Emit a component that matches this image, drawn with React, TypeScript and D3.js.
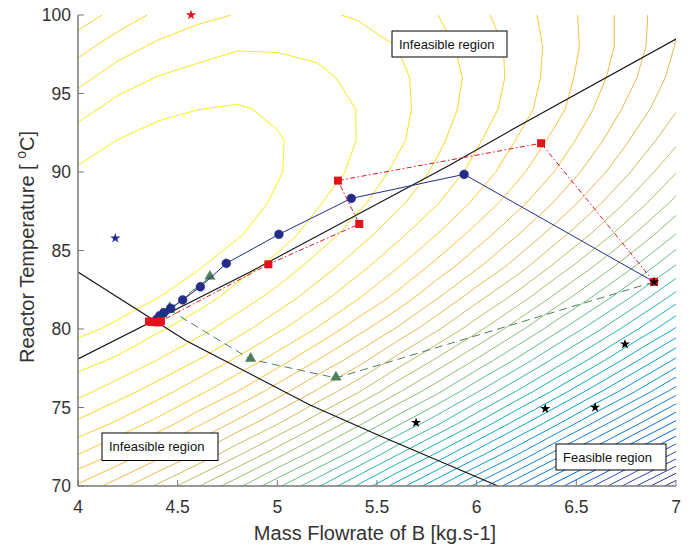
import React from "react";
import * as d3 from "d3";

// ---- contour field (profit) on a coarse grid ----
const gridX = [4, 4.2, 4.4, 4.6, 4.8, 5, 5.2, 5.4, 5.6, 5.8, 6, 6.2, 6.4, 6.6, 6.8, 7];
const gridY = [70, 72, 74, 76, 78, 80, 82, 84, 86, 88, 90, 92, 94, 96, 98, 100];
// rows: one per gridY value (70 -> 100), columns: gridX (4 -> 7)
const profitGrid = [
  [107, 93.9, 78.8, 62.6, 45.5, 26.4, 7.3, -13.8, -36.0, -58.1, -81.2, -105.3, -129.4, -154.6, -180.7, -206.8],
  [127, 115.9, 102.8, 88.6, 72.5, 55.4, 37.3, 18.2, -3.0, -24.1, -46.2, -68.3, -92.4, -115.6, -140.7, -165.8],
  [144, 134.9, 123.8, 110.6, 96.5, 81.4, 64.3, 46.2, 27.0, 7.9, -13.2, -35.3, -57.4, -80.6, -103.7, -127.8],
  [158, 149.9, 140.8, 129.6, 117.5, 103.4, 88.3, 72.2, 54.0, 35.9, 15.8, -4.3, -25.4, -47.6, -69.7, -92.8],
  [168, 162.9, 154.8, 145.6, 134.5, 122.4, 108.3, 94.2, 77.0, 59.9, 41.8, 22.7, 2.6, -17.6, -39.7, -61.8],
  [176, 171.9, 165.8, 158.6, 149.5, 138.4, 126.3, 112.2, 98.0, 81.9, 64.8, 46.7, 27.6, 8.4, -11.7, -32.8],
  [180, 177.9, 173.8, 168.6, 160.5, 151.4, 140.3, 128.2, 115.0, 99.9, 83.8, 67.7, 49.6, 31.4, 12.3, -7.8],
  [182, 181.9, 179.8, 174.6, 168.5, 161.4, 151.3, 140.2, 128.0, 114.9, 100.8, 85.7, 68.6, 51.4, 33.3, 14.2],
  [182, 182.9, 181.8, 179.6, 174.5, 168.4, 160.3, 150.2, 139.0, 126.9, 113.8, 99.7, 84.6, 68.4, 51.3, 33.2],
  [180, 181.9, 182.8, 180.6, 177.5, 172.4, 165.3, 157.2, 148.0, 136.9, 124.8, 111.7, 97.6, 82.4, 66.3, 49.2],
  [175, 178.9, 180.8, 180.6, 178.5, 174.4, 169.3, 162.2, 153.0, 143.9, 132.8, 120.7, 107.6, 93.4, 78.3, 62.2],
  [169, 173.9, 176.8, 178.6, 177.5, 174.4, 170.3, 164.2, 157.0, 147.9, 137.8, 126.7, 114.6, 101.4, 87.3, 73.2],
  [161, 167.9, 171.8, 173.6, 174.5, 172.4, 169.3, 164.2, 158.0, 149.9, 141.8, 131.7, 120.6, 107.4, 94.3, 81.2],
  [152, 159.9, 164.8, 167.6, 169.5, 168.4, 166.3, 162.2, 157.0, 150.9, 142.8, 133.7, 122.6, 111.4, 99.3, 86.2],
  [142, 150.9, 156.8, 160.6, 163.5, 163.4, 162.3, 159.2, 155.0, 148.9, 141.8, 133.7, 123.6, 113.4, 102.3, 89.2],
  [131, 139.9, 147.8, 152.6, 155.5, 156.4, 156.3, 154.2, 150.0, 145.9, 138.8, 131.7, 122.6, 113.4, 102.3, 91.2],
];
const contourTop = 173.7;
const contourStep = 9.33;
const contourCount = 41;

// parula colormap (sampled)
const parula = [
  [0.2081, 0.1663, 0.5292], [0.2123, 0.2138, 0.627], [0.1959, 0.2645, 0.7279], [0.1253, 0.3242, 0.8303],
  [0.0117, 0.3875, 0.882], [0.0165, 0.4266, 0.8786], [0.0498, 0.4586, 0.8641], [0.0723, 0.4887, 0.8467],
  [0.0793, 0.52, 0.8312], [0.0641, 0.557, 0.824], [0.0343, 0.5966, 0.8199], [0.0239, 0.6287, 0.8038],
  [0.0228, 0.6535, 0.7768], [0.0384, 0.6743, 0.7436], [0.0843, 0.6928, 0.7062], [0.1453, 0.7098, 0.6646],
  [0.2178, 0.725, 0.6193], [0.3022, 0.7376, 0.5712], [0.3953, 0.7459, 0.5244], [0.4871, 0.7491, 0.484],
  [0.5709, 0.7485, 0.4494], [0.6473, 0.7456, 0.4188], [0.7184, 0.7411, 0.3905], [0.7858, 0.7356, 0.3633],
  [0.8507, 0.7299, 0.336], [0.9139, 0.7258, 0.3063], [0.9739, 0.7314, 0.2666], [0.999, 0.7653, 0.2164],
  [0.988, 0.8066, 0.1794], [0.9697, 0.8481, 0.1475], [0.9589, 0.8949, 0.1132], [0.9661, 0.9514, 0.0755],
  [0.9763, 0.9831, 0.0538],
];

// ---- constraint boundaries ----
const xgLineX = [4.0, 4.863, 5.866, 6.192, 7.0];
const xgLineY = [78.09, 83.63, 90.45, 92.8, 98.47];
const xaLineX = [4.0, 4.11, 4.545, 5.164, 5.505, 6.107];
const xaLineY = [83.63, 82.74, 79.24, 75.16, 73.25, 70.0];

// ---- iterate sequences ----
const blueX = [6.89, 5.937, 5.371, 5.008, 4.744, 4.614, 4.525, 4.465, 4.431, 4.41, 4.395];
const blueY = [83.0, 89.85, 88.32, 86.03, 84.18, 82.69, 81.85, 81.32, 81.04, 80.83, 80.62];
const redX = [6.89, 6.323, 5.304, 5.411, 4.955, 4.416, 4.356, 4.4, 4.37, 4.385, 4.41];
const redY = [83.0, 91.83, 89.45, 86.69, 84.12, 80.5, 80.48, 80.42, 80.45, 80.44, 80.46];
const greenX = [6.89, 5.294, 4.866, 4.46, 4.662, 4.46, 4.42, 4.4];
const greenY = [83.0, 76.88, 78.07, 81.2, 83.3, 81.3, 80.9, 80.7];

// ---- stars ----
const blackStarX = [5.696, 6.344, 6.594, 6.744, 6.89];
const blackStarY = [74.03, 74.92, 75.01, 79.03, 83.0];
const redStar = [4.567, 100];
const blueStar = [4.187, 85.78];

// ---- axes ----
const xTicks = [4, 4.5, 5, 5.5, 6, 6.5, 7];
const yTicks = [70, 75, 80, 85, 90, 95, 100];

const L = 78, R = 676, T = 15, B = 486;
const FONT = "'Liberation Sans', Arial, Helvetica, sans-serif";
const BLUE = "#232d87";
const RED = "#e3131b";
const GREEN = "#4e7d5b";

export default function App() {
  const x = d3.scaleLinear().domain([4, 7]).range([L, R]);
  const y = d3.scaleLinear().domain([70, 100]).range([B, T]);
  const nx = gridX.length, ny = gridY.length;
  const dx = gridX[1] - gridX[0], dy = gridY[1] - gridY[0];
  const values = profitGrid.flat();
  const ext = d3.extent(values) as [number, number];
  const levels = d3.range(contourCount).map((k) => contourTop - k * contourStep);
  const contours = d3.contours().size([nx, ny]).thresholds(levels.slice().reverse())(values);
  const tr = d3.geoTransform({
    point(px: number, py: number) {
      (this as any).stream.point(x(gridX[0] + (px - 0.5) * dx), y(gridY[0] + (py - 0.5) * dy));
    },
  });
  const cpath = d3.geoPath(tr as any);
  const cmap = d3.piecewise(d3.interpolateRgb, parula.map((c) => d3.rgb(c[0] * 255, c[1] * 255, c[2] * 255).toString()));
  const color = (v: number) => {
    let t = Math.max(0, Math.min(1, (v - ext[0]) / (ext[1] - ext[0])));
    if (t < 0.75) t = 0.75 * Math.pow(t / 0.75, 1.25);
    return cmap(t);
  };

  const mk = (xs: number[], ys: number[]) =>
    d3.line<number>().x((i) => x(xs[i])).y((i) => y(ys[i]))(d3.range(xs.length)) || "";

  const star = d3.symbol().type(d3.symbolStar).size(32)() || "";
  const tri = d3.symbol().type(d3.symbolTriangle).size(46)() || "";

  const box = (bx: number, by: number, bw: number, bh: number, label: string) => (
    <g>
      <rect x={bx} y={by} width={bw} height={bh} fill="white" stroke="black" strokeWidth={1} />
      <text x={bx + 7} y={by + bh / 2 + 4.6} fontSize={13} fontFamily={FONT} fill="#111">{label}</text>
    </g>
  );

  return (
    <svg width={691} height={545} style={{ display: "block", position: "absolute", left: 0, top: 0 }}>
      <rect x={0} y={0} width={691} height={545} fill="white" />
      <defs>
        <clipPath id="plotclip"><rect x={L} y={T} width={R - L} height={B - T} /></clipPath>
      </defs>
      <g clipPath="url(#plotclip)">
        {contours.map((c, k) => (
          <path key={k} d={cpath(c as any) || ""} fill="none" stroke={color(c.value)} strokeWidth={1} />
        ))}
        <path d={mk(xgLineX, xgLineY)} fill="none" stroke="#111" strokeWidth={1.1} />
        <path d={mk(xaLineX, xaLineY)} fill="none" stroke="#111" strokeWidth={1.1} />
      </g>

      {/* green sequence */}
      <path d={mk(greenX, greenY)} fill="none" stroke={GREEN} strokeWidth={1} strokeDasharray="8,5" />
      {greenX.slice(1).map((v, i) => (
        <path key={"g" + i} d={tri} transform={`translate(${x(v)},${y(greenY[i + 1]) - 0.8})`} fill={GREEN} stroke={GREEN} strokeWidth={0.5} />
      ))}
      {/* blue sequence */}
      <path d={mk(blueX, blueY)} fill="none" stroke={BLUE} strokeWidth={1} />
      {blueX.slice(1).map((v, i) => (
        <circle key={"b" + i} cx={x(v)} cy={y(blueY[i + 1])} r={4.4} fill={BLUE} stroke={BLUE} strokeWidth={0.5} />
      ))}
      {/* red sequence */}
      <path d={mk(redX, redY)} fill="none" stroke={RED} strokeWidth={1} strokeDasharray="5,2.5,1.5,2.5" />
      {redX.map((v, i) => (
        <rect key={"r" + i} x={x(v) - 4} y={y(redY[i]) - 4} width={8} height={8} fill={RED} />
      ))}

      {/* stars */}
      {blackStarX.map((v, i) => (
        <path key={"s" + i} d={star} transform={`translate(${x(v)},${y(blackStarY[i])})`} fill="black" />
      ))}
      <path d={star} transform={`translate(${x(redStar[0])},${y(redStar[1])})`} fill={RED} />
      <path d={star} transform={`translate(${x(blueStar[0])},${y(blueStar[1])})`} fill={BLUE} />

      {/* annotation boxes */}
      {box(392, 31, 115, 26, "Infeasible region")}
      {box(102, 433, 116, 27.5, "Infeasible region")}
      {box(556, 444, 110, 26, "Feasible region")}

      {/* axes */}
      <line x1={L} y1={T} x2={L} y2={B} stroke="#777" strokeWidth={1.5} />
      <line x1={L} y1={B} x2={R} y2={B} stroke="#777" strokeWidth={1.5} />
      {yTicks.map((t) => (
        <g key={"yt" + t}>
          <line x1={L} x2={L + 6} y1={y(t)} y2={y(t)} stroke="#777" strokeWidth={1} />
          <text x={L - 7} y={y(t) + 6.2} textAnchor="end" fontSize={17.5} fontFamily={FONT} fill="#333">{t}</text>
        </g>
      ))}
      {xTicks.map((t) => (
        <g key={"xt" + t}>
          <line x1={x(t)} x2={x(t)} y1={B} y2={B - 6} stroke="#777" strokeWidth={1} />
          <text x={x(t)} y={513} textAnchor="middle" fontSize={17.5} fontFamily={FONT} fill="#333">{t}</text>
        </g>
      ))}
      <text x={375} y={540} textAnchor="middle" fontSize={20} fontFamily={FONT} fill="#333">Mass Flowrate of B [kg.s-1]</text>
      <text transform="translate(33.5,247) rotate(-90)" textAnchor="middle" fontSize={20} fontFamily={FONT} fill="#333">
        Reactor Temperature [ <tspan fontSize={14} dy={-8}>o</tspan><tspan dy={8}>C]</tspan>
      </text>
    </svg>
  );
}
